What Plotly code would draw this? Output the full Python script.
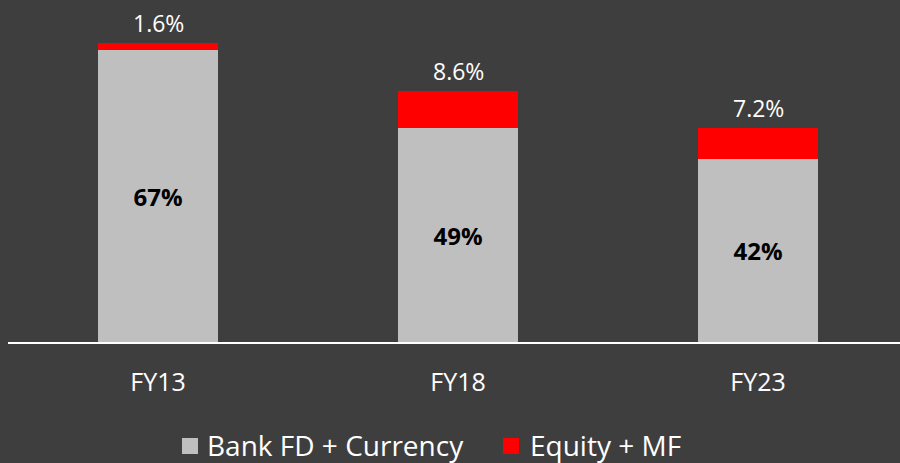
import plotly.graph_objects as go

categories = ["FY13", "FY18", "FY23"]
bank_fd = [67, 49, 42]
equity_mf = [1.6, 8.6, 7.2]
bank_labels = ["67%", "49%", "42%"]
equity_labels = ["1.6%", "8.6%", "7.2%"]
series_names = ["Bank FD + Currency", "Equity + MF"]
series_colors = ["#bfbfbf", "#ff0000"]

FONT = "Open Sans"
W, H = 900, 463
ML, MR, MT, MB = 8, 0, 0, 121
PW, PH = W - ML - MR, H - MT - MB


def px_x(p):
    return (p - ML) / PW


def px_y(p):
    return (H - MB - p) / PH


fig = go.Figure()
fig.add_trace(go.Bar(
    x=categories, y=bank_fd, name=series_names[0],
    marker=dict(color=series_colors[0], line=dict(width=0)),
    text=bank_labels, textposition="inside", insidetextanchor="middle",
    textfont=dict(family=FONT, size=24, color="#000000", weight="bold"),
    hoverinfo="skip", showlegend=False,
))
fig.add_trace(go.Bar(
    x=categories, y=equity_mf, name=series_names[1],
    marker=dict(color=series_colors[1], line=dict(width=0)),
    textposition="none", hoverinfo="skip", showlegend=False,
))

for c, b, e, t in zip(categories, bank_fd, equity_mf, equity_labels):
    fig.add_annotation(x=c, y=b + e, text=t, showarrow=False,
                       yanchor="bottom", yshift=2,
                       font=dict(family=FONT, size=23, color="#ffffff"))

# custom legend
legend_items = [(series_names[0], series_colors[0], 182, 207),
                (series_names[1], series_colors[1], 503, 530)]
for name, col, sq_x, tx_x in legend_items:
    fig.add_shape(type="rect", xref="paper", yref="paper",
                  x0=px_x(sq_x), x1=px_x(sq_x + 16),
                  y0=px_y(454), y1=px_y(438),
                  fillcolor=col, line=dict(width=0))
    fig.add_annotation(xref="paper", yref="paper", x=px_x(tx_x - 2), y=px_y(445),
                       xanchor="left", yanchor="middle", text=name, showarrow=False,
                       font=dict(family=FONT, size=28, color="#ffffff"))

fig.update_layout(
    width=W, height=H,
    barmode="stack", bargap=0.6,
    paper_bgcolor="#3e3e3e", plot_bgcolor="#3e3e3e",
    margin=dict(l=ML, r=MR, t=MT, b=MB, autoexpand=False),
    font=dict(family=FONT, color="#ffffff"),
    xaxis=dict(range=[-0.5, 2.473], showline=True, linecolor="#ffffff", linewidth=2,
               showgrid=False, zeroline=False, ticks="",
               tickfont=dict(family=FONT, size=25, color="#ffffff"),
               ticklabelstandoff=17),
    yaxis=dict(range=[0, 78.48], visible=False, showgrid=False, zeroline=False),
    showlegend=False,
)

fig.write_html("out.html", config={"displayModeBar": False},
               post_script="document.body.style.margin='0px';")
